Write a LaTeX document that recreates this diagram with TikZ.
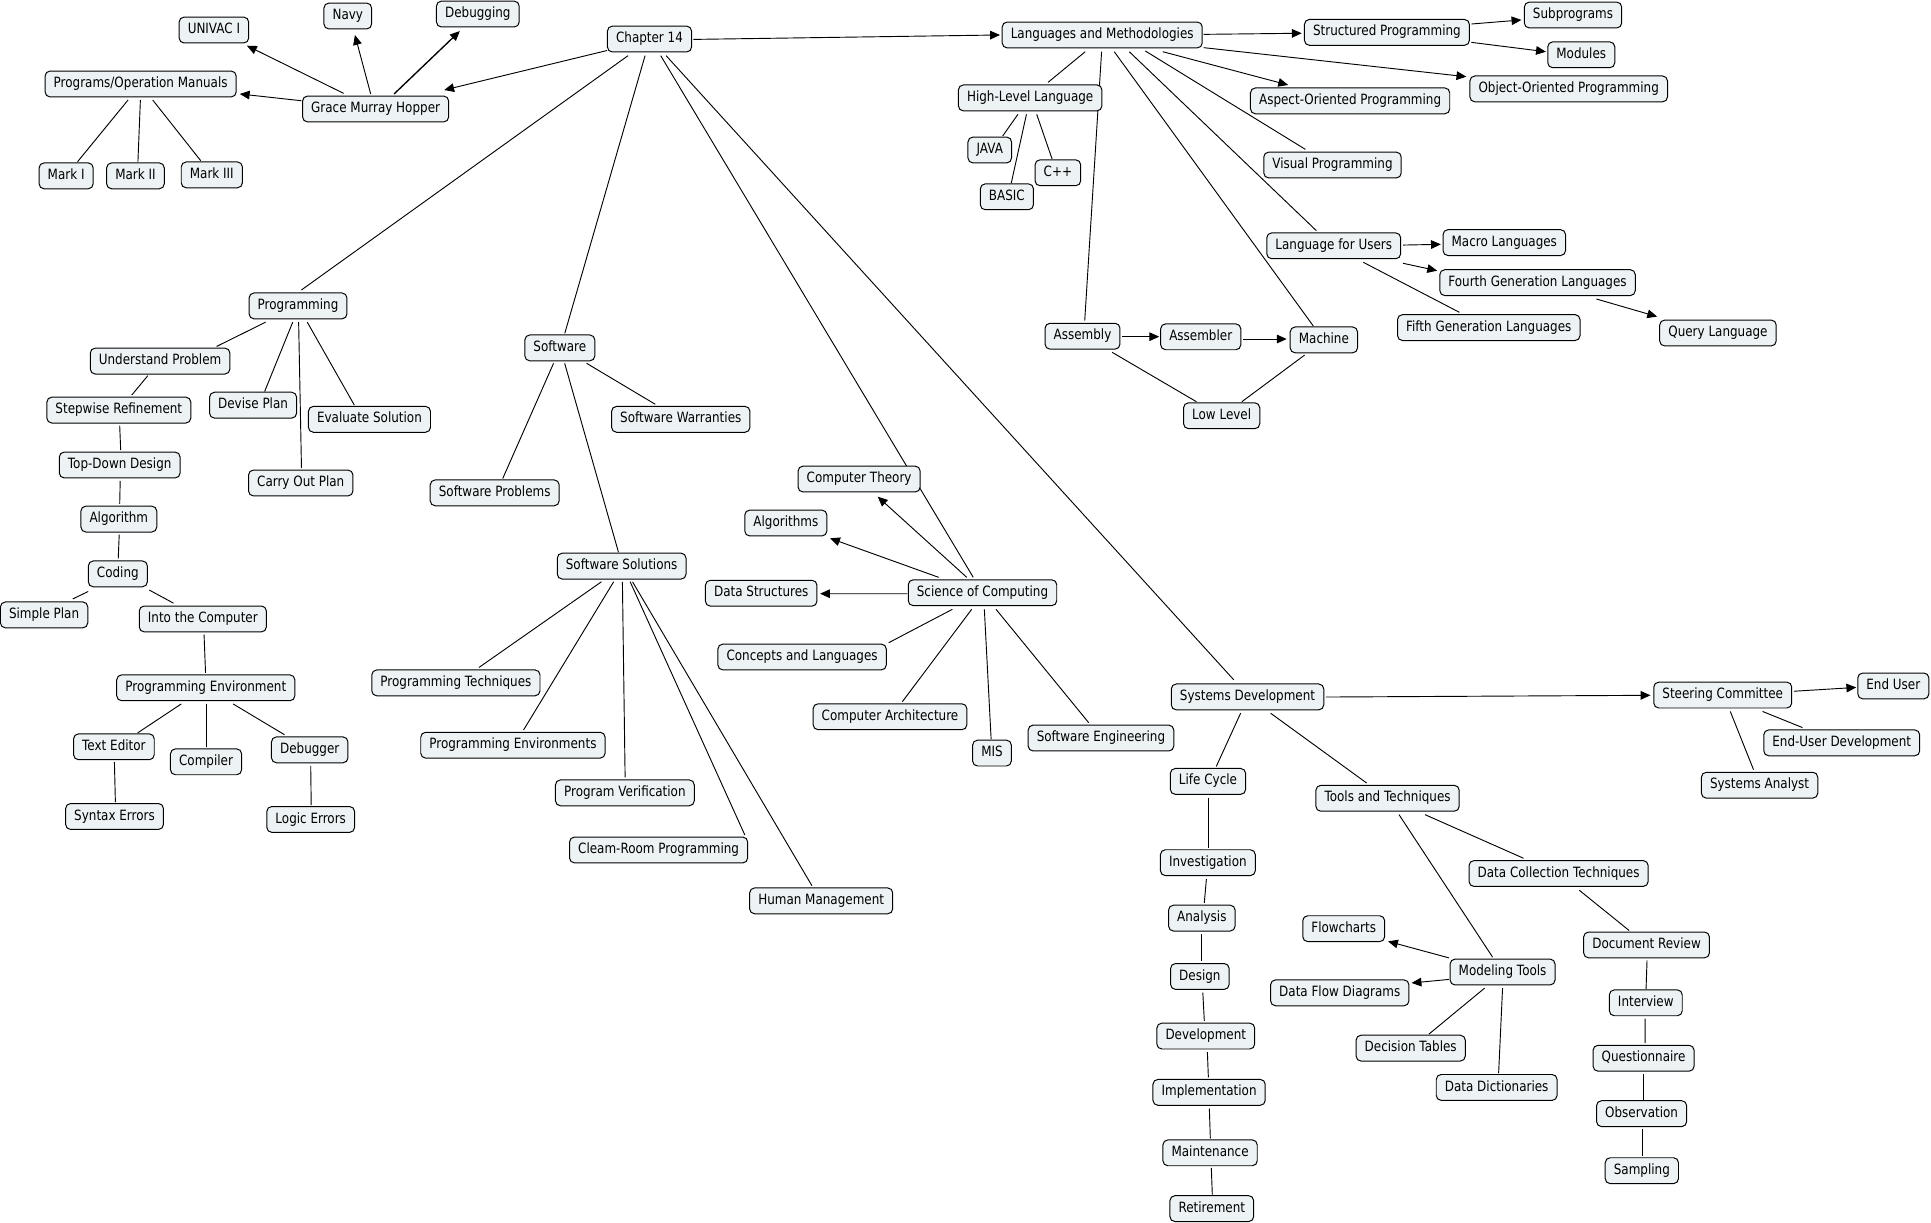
\documentclass[tikz,border=0pt]{standalone}
\usepackage{fontspec}
\setmainfont{DejaVu Sans}[FakeStretch=0.845]
\usetikzlibrary{calc,arrows.meta,backgrounds}
\definecolor{cfill}{RGB}{237,243,245}
\tikzset{
  concept/.style={draw=black, line width=0.8pt, fill=cfill, rounded corners=4pt,
    inner xsep=7pt, inner ysep=5pt, text height=8.4pt, text depth=2.6pt,
    font=\fontsize{11.5}{13.5}\selectfont},
  link/.style={line width=0.75pt, draw=black},
  arr/.style={link, -{Triangle[length=8pt,width=7pt]}},
}
\newcommand\lk[5][link]{\draw[#1] ($(#2)+(#3)$) -- ($(#4)+(#5)$);}
\begin{document}
\begin{tikzpicture}[x=1pt,y=-1pt]
\useasboundingbox (0,0) rectangle (1568,992.3);
% nodes
\node[concept] (univac) at (173.7,24.4) {UNIVAC I};
\node[concept] (navy) at (282.4,13) {Navy};
\node[concept] (debug) at (388,11.4) {Debugging};
\node[concept] (progman) at (114.2,68.2) {Programs/Operation Manuals};
\node[concept] (grace) at (305,88.5) {Grace Murray Hopper};
\node[concept] (markI) at (53.7,142.8) {Mark I};
\node[concept] (markII) at (110,142.8) {Mark II};
\node[concept] (markIII) at (172,142) {Mark III};
\node[concept] (ch14) at (527.4,31.7) {Chapter 14};
\node[concept] (lm) at (895,28.4) {Languages and Methodologies};
\node[concept] (struct) at (1126.2,26.3) {Structured Programming};
\node[concept] (subp) at (1277.3,12.2) {Subprograms};
\node[concept] (modules) at (1284,44.5) {Modules};
\node[concept] (oop) at (1273.8,72.2) {Object-Oriented Programming};
\node[concept] (aop) at (1096.3,81.9) {Aspect-Oriented Programming};
\node[concept] (hll) at (836.5,79.5) {High-Level Language};
\node[concept] (java) at (803.7,121.8) {JAVA};
\node[concept] (cpp) at (859,140.3) {C++};
\node[concept] (basic) at (817.6,159.8) {BASIC};
\node[concept] (visual) at (1082,134) {Visual Programming};
\node[concept] (lfu) at (1083,199.6) {Language for Users};
\node[concept] (macro) at (1221.5,197) {Macro Languages};
\node[concept] (fourth) at (1248.5,229.5) {Fourth Generation Languages};
\node[concept] (fifth) at (1208.9,266) {Fifth Generation Languages};
\node[concept] (query) at (1395,270.4) {Query Language};
\node[concept] (assembly) at (879,273) {Assembly};
\node[concept] (assembler) at (975,273.5) {Assembler};
\node[concept] (machine) at (1075,276) {Machine};
\node[concept] (lowlevel) at (992,337.6) {Low Level};
\node[concept] (programming) at (242,248.4) {Programming};
\node[concept] (understand) at (130,293.2) {Understand Problem};
\node[concept] (stepwise) at (96.5,333) {Stepwise Refinement};
\node[concept] (devise) at (205.5,329) {Devise Plan};
\node[concept] (evaluate) at (300,340.5) {Evaluate Solution};
\node[concept] (topdown) at (97.2,377.6) {Top-Down Design};
\node[concept] (carry) at (244.2,392.2) {Carry Out Plan};
\node[concept] (algorithm) at (96.5,421.5) {Algorithm};
\node[concept] (coding) at (95.7,466) {Coding};
\node[concept] (simple) at (35.8,499.3) {Simple Plan};
\node[concept] (into) at (164.7,502.6) {Into the Computer};
\node[concept] (progenv) at (167.1,558.5) {Programming Environment};
\node[concept] (texted) at (92.5,606.4) {Text Editor};
\node[concept] (compiler) at (167.3,618.6) {Compiler};
\node[concept] (debugger) at (251.5,608.9) {Debugger};
\node[concept] (syntax) at (93,663) {Syntax Errors};
\node[concept] (logic) at (252.3,665.4) {Logic Errors};
\node[concept] (software) at (454.6,282.5) {Software};
\node[concept] (warranties) at (552.8,340.5) {Software Warranties};
\node[concept] (problems) at (401.7,400.2) {Software Problems};
\node[concept] (solutions) at (504.8,459.7) {Software Solutions};
\node[concept] (techniques) at (370.2,554.5) {Programming Techniques};
\node[concept] (environments) at (416.5,605.1) {Programming Environments};
\node[concept] (verification) at (507.4,643.8) {Program Verification};
\node[concept] (cleam) at (534.8,690.2) {Cleam-Room Programming};
\node[concept] (human) at (666.8,731.5) {Human Management};
\node[concept] (ctheory) at (697.6,389) {Computer Theory};
\node[concept] (algorithms) at (638.1,424.7) {Algorithms};
\node[concept] (datastruct) at (618.1,481.7) {Data Structures};
\node[concept] (soc) at (797.8,481.3) {Science of Computing};
\node[concept] (concepts) at (651.3,533.5) {Concepts and Languages};
\node[concept] (arch) at (722.7,582) {Computer Architecture};
\node[concept] (mis) at (805.5,611.5) {MIS};
\node[concept] (se) at (894,599.3) {Software Engineering};
\node[concept] (sd) at (1013,565.9) {Systems Development};
\node[concept] (steering) at (1398.9,564.4) {Steering Committee};
\node[concept] (enduser) at (1537.4,557) {End User};
\node[concept] (eud) at (1495.5,603.2) {End-User Development};
\node[concept] (analyst) at (1428.8,637.6) {Systems Analyst};
\node[concept] (lifecycle) at (980.9,634.5) {Life Cycle};
\node[concept] (tools) at (1126.7,648.2) {Tools and Techniques};
\node[concept] (investigation) at (980.8,700.5) {Investigation};
\node[concept] (analysis) at (975.9,745.5) {Analysis};
\node[concept] (design) at (974.3,792.9) {Design};
\node[concept] (development) at (979.1,841.3) {Development};
\node[concept] (implementation) at (981.8,887) {Implementation};
\node[concept] (maintenance) at (982.6,936.1) {Maintenance};
\node[concept] (retirement) at (984,981.4) {Retirement};
\node[concept] (datacoll) at (1265.6,709.3) {Data Collection Techniques};
\node[concept] (flowcharts) at (1091.1,754.1) {Flowcharts};
\node[concept] (modeling) at (1220.1,789.3) {Modeling Tools};
\node[concept] (dfd) at (1087.9,806.2) {Data Flow Diagrams};
\node[concept] (decision) at (1145.5,851.1) {Decision Tables};
\node[concept] (dictionaries) at (1215.3,883) {Data Dictionaries};
\node[concept] (docreview) at (1337,767.3) {Document Review};
\node[concept] (interview) at (1336.4,814.3) {Interview};
\node[concept] (questionnaire) at (1334.6,859.3) {Questionnaire};
\node[concept] (observation) at (1333,904.3) {Observation};
\node[concept] (sampling) at (1333.2,950.6) {Sampling};
% connectors
\begin{scope}[on background layer]
\fill[white] (0,0) rectangle (1568,992.3);
% Grace Murray Hopper group
\lk[arr]{ch14}{-34.4,9.3}{grace}{55.7,-15.4}
\lk[arr]{grace}{-26,-12.7}{univac}{26.8,12.7}
\lk[arr]{grace}{-4,-12.2}{navy}{5.8,15.4}
\lk[arr,line width=1.1pt]{grace}{15,-12.2}{debug}{-14.6,13.8}
\lk[arr]{grace}{-60.3,-6.7}{progman}{80.5,8.1}
\lk{progman}{-10.2,13}{markI}{9.3,-11.5}
\lk{progman}{-0.2,13}{markII}{2,-11.5}
\lk{progman}{9.8,13}{markIII}{-9,-11.5}
% Chapter 14
\lk[arr]{ch14}{35.6,0.3}{lm}{-83,0}
\lk{ch14}{-17.4,13.5}{programming}{2.7,-12.9}
\lk{ch14}{-3.6,13.5}{software}{4,-11.8}
\lk{ch14}{9.1,13.5}{soc}{-7.5,-12.5}
\lk{ch14}{13.5,13.5}{sd}{-11.2,-13.9}
% Languages and Methodologies
\lk[arr]{lm}{82.4,-0.5}{struct}{-69.2,0.7}
\lk[arr]{struct}{68.6,-6.8}{subp}{-41.9,4}
\lk[arr]{struct}{68.6,8.1}{modules}{-28.7,-2.5}
\lk[arr]{lm}{82.4,10.3}{oop}{-83.1,-9.9}
\lk[arr]{lm}{49.2,13.6}{aop}{-50.3,-12.9}
\lk{lm}{-13.8,13.6}{hll}{14.5,-12.6}
\lk{lm}{-0.5,13.6}{assembly}{1.8,-12.6}
\lk{lm}{9.8,13.6}{machine}{-8.6,-11.3}
\lk{lm}{22,13.6}{lfu}{-14.1,-12.3}
\lk{lm}{35,13}{visual}{-22,-12.7}
\lk{hll}{-9.9,13.3}{java}{10.5,-11.4}
\lk{hll}{-3,13.3}{basic}{3.5,-10.9}
\lk{hll}{5.3,13.3}{cpp}{-4.7,-11.2}
\lk[arr]{lfu}{56.3,-0.6}{macro}{-51.5,1.4}
\lk[arr]{lfu}{56.3,14.2}{fourth}{-81.5,-9.7}
\lk{lfu}{24,13.4}{fifth}{-23.9,-12.4}
\lk[arr]{fourth}{47.8,13.3}{query}{-49.4,-13.3}
\lk[arr]{assembly}{32.4,0.4}{assembler}{-33.7,-0.1}
\lk[arr]{assembler}{34.7,1.8}{machine}{-30.2,-0.7}
\lk{assembly}{24.1,13.1}{lowlevel}{-20.5,-11.4}
\lk{machine}{-15.6,12.3}{lowlevel}{16.4,-11.4}
% Programming
\lk{programming}{-26.3,13.2}{understand}{45.9,-11.9}
\lk{programming}{-4.3,13.2}{devise}{9.4,-11.1}
\lk{programming}{0.5,13.2}{carry}{0.6,-12}
\lk{programming}{7.5,13.2}{evaluate}{-12.3,-11.6}
\lk{understand}{-10,11.9}{stepwise}{10.5,-12.2}
\lk{stepwise}{0.7,12.7}{topdown}{0.8,-12.2}
\lk{topdown}{0.4,12.8}{algorithm}{0.7,-12.3}
\lk{algorithm}{0.3,12.7}{coding}{0.3,-12.4}
\lk{coding}{-24.1,14.3}{simple}{23.2,-12.9}
\lk{coding}{25.5,13.1}{into}{-23.8,-12.8}
\lk{into}{1,12.8}{progenv}{-0.2,-12.1}
\lk{progenv}{-19.9,13.1}{texted}{19.3,-11.3}
\lk{progenv}{0.6,13.1}{compiler}{0.4,-11.9}
\lk{progenv}{22.2,13.1}{debugger}{-20.5,-12.3}
\lk{texted}{0.4,12.5}{syntax}{0.7,-11.6}
\lk{debugger}{0.8,12.9}{logic}{0.4,-11.7}
% Software
\lk{software}{-5.1,12.5}{problems}{6.5,-11.6}
\lk{software}{3.9,12.5}{solutions}{-2.6,-11.3}
\lk{software}{21.7,12.5}{warranties}{-20.7,-12.2}
\lk{solutions}{-16.4,12.7}{techniques}{18.7,-12.5}
\lk{solutions}{-6.5,12.7}{environments}{8.6,-12.3}
\lk{solutions}{0.6,12.7}{verification}{0.2,-12.6}
\lk{solutions}{6.9,12.7}{cleam}{70,-12.2}
\lk{solutions}{8.8,12.7}{human}{-7.5,-12.3}
% Science of Computing
\lk[arr]{soc}{-12.8,-12.5}{ctheory}{15.1,14.3}
\lk[arr]{soc}{-35.6,-12.5}{algorithms}{35.9,12.4}
\lk[arr]{soc}{-61,0.8}{datastruct}{47.8,0.4}
\lk{soc}{-24.5,13.5}{concepts}{70.3,-11.6}
\lk{soc}{-8.8,13.5}{arch}{10,-12.2}
\lk{soc}{1.5,13.5}{mis}{-0.7,-11.4}
\lk{soc}{11,13.5}{se}{-10,-12.5}
% Systems Development
\lk[arr]{sd}{63.6,0.1}{steering}{-58.7,0.2}
\lk[arr]{steering}{57.8,-3.1}{enduser}{-30.1,1.2}
\lk{steering}{32.3,13.3}{eud}{-31.9,-12.4}
\lk{steering}{6.1,13.3}{analyst}{-4.9,-12.6}
\lk{sd}{-5.6,13.2}{lifecycle}{6.7,-12.1}
\lk{sd}{18.7,13.2}{tools}{-17,-12.4}
\lk{lifecycle}{0.3,13.3}{investigation}{0.4,-12.1}
\lk{investigation}{-1.2,13.3}{analysis}{2,-12.4}
\lk{analysis}{-0.4,13}{design}{1.2,-12.8}
\lk{design}{2.4,13.2}{development}{-1.2,-12.4}
\lk{development}{1.3,13}{implementation}{-0.6,-12.2}
\lk{implementation}{0.2,13.2}{maintenance}{0.2,-11.7}
\lk{maintenance}{1,12.3}{retirement}{0.4,-11.4}
\lk{tools}{30.4,13.3}{datacoll}{-28.5,-12.4}
\lk{tools}{9.3,13.3}{modeling}{-8.1,-12.1}
\lk[arr]{modeling}{-43.6,-11.5}{flowcharts}{36,10.3}
\lk[arr]{modeling}{-43.6,6}{dfd}{58.3,-8}
\lk{modeling}{-14.5,13}{decision}{14.8,-11.4}
\lk{modeling}{0,13}{dictionaries}{1.6,-11.7}
\lk{datacoll}{16.8,13.6}{docreview}{-14.1,-11.7}
\lk{docreview}{0.4,12.6}{interview}{0.2,-11.1}
\lk{interview}{-0.6,12.8}{questionnaire}{1.2,-12.3}
\lk{questionnaire}{0,13.1}{observation}{1.6,-11.4}
\lk{observation}{0.8,12.2}{sampling}{0.6,-12.2}
\end{scope}
\end{tikzpicture}
\end{document}
